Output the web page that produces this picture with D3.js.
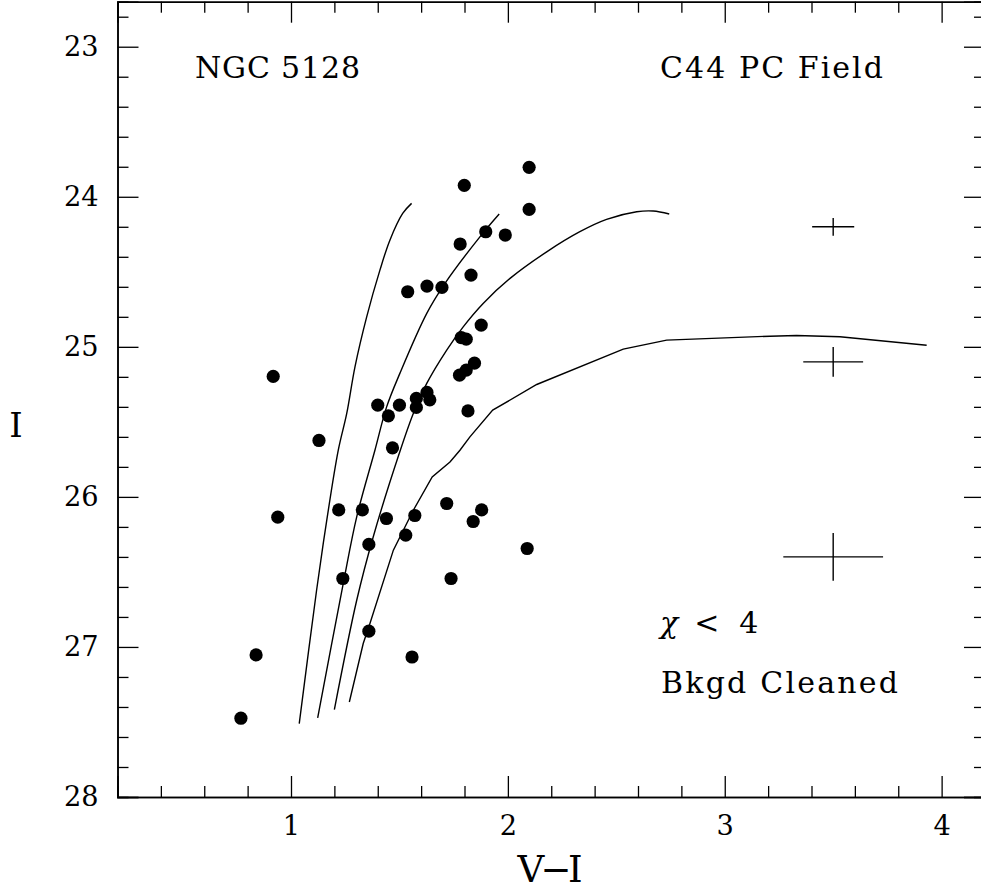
<!DOCTYPE html>
<html><head><meta charset="utf-8">
<script src="https://cdn.jsdelivr.net/npm/d3@7"></script>
<style>body{margin:0;background:#fff;} svg{display:block;}</style>
</head><body>
<script>
// Data points (V-I, I)
const starVI = [2.098,1.799,2.098,1.898,1.988,1.780,1.830,1.627,1.696,1.538,1.877,1.785,1.808,1.846,1.808,1.777,0.918,1.627,1.640,1.578,1.578,1.400,1.500,1.449,1.816,1.129,1.468,
  0.939,1.220,1.329,1.440,1.571,1.718,1.879,1.840,1.529,1.359,2.089,1.239,1.738,1.359,0.839,1.558,0.769];
const starI = [23.804,23.924,24.084,24.233,24.255,24.315,24.522,24.595,24.604,24.633,24.855,24.938,24.949,25.109,25.155,25.189,25.197,25.304,25.353,25.344,25.404,25.389,25.389,25.460,25.427,25.624,25.673,
  26.135,26.087,26.087,26.144,26.124,26.044,26.087,26.164,26.255,26.317,26.344,26.544,26.544,26.895,27.053,27.067,27.475];

// Isochrone / fiducial curves
const curve1VI = [1.038,1.118,1.165,1.218,1.257,1.295,1.349,1.410,1.456,1.515,1.556];
const curve1I  = [27.511,26.622,26.155,25.689,25.444,25.133,24.800,24.489,24.289,24.111,24.044];
const curve2VI = [1.123,1.241,1.303,1.387,1.441,1.502,1.626,1.710,1.871,1.960];
const curve2I  = [27.473,26.577,26.133,25.689,25.400,25.177,24.777,24.577,24.267,24.115];
const curve3VI = [1.200,1.303,1.379,1.499,1.564,1.626,1.718,1.794,1.886,2.010,2.179,2.332,2.455,2.594,2.670,2.744];
const curve3I  = [27.417,26.689,26.267,25.711,25.444,25.244,25.022,24.867,24.711,24.544,24.367,24.233,24.151,24.100,24.095,24.115];
const curve4VI = [1.269,1.333,1.364,1.472,1.564,1.651,1.733,1.779,1.825,1.930,2.133,2.532,2.732,3.208,3.331,3.531,3.931];
const curve4I  = [27.367,26.977,26.844,26.355,26.089,25.867,25.767,25.689,25.600,25.422,25.251,25.015,24.955,24.929,24.924,24.933,24.989];

// Error bars
const errVI = [3.5,3.5,3.5];
const errI = [24.2,25.1,26.4];
const errX = [0.097,0.138,0.23];
const errY = [0.059,0.099,0.159];

const xMajorTicks = [1,2,3,4];
const yMajorTicks = [23,24,25,26,27,28];

const W = 981, H = 890;
const svg = d3.select("body").append("svg").attr("width", W).attr("height", H);
const x = d3.scaleLinear().domain([0.2, 4.2]).range([117.5, 985]);
const y = d3.scaleLinear().domain([22.7, 28]).range([1.7, 797]);

const font = "'DejaVu Serif', 'Liberation Serif', serif";
const xMinor = d3.range(0.2, 4.2001, 0.2).map(v => +v.toFixed(1)).filter(v => !xMajorTicks.includes(v));
const yMinor = d3.range(22.8, 28.0001, 0.2).map(v => +v.toFixed(1)).filter(v => !yMajorTicks.includes(v));

function styleAxis(g){
  g.select(".domain").attr("stroke", "#000").attr("stroke-width", 1.5);
  g.selectAll(".tick line").attr("stroke", "#000").attr("stroke-width", 1.3);
  g.selectAll(".tick text").attr("font-family", font).attr("font-size", 27).attr("fill", "#000");
}
// bottom
svg.append("g").attr("transform", `translate(0,${y(28)})`)
  .call(d3.axisBottom(x).tickValues(xMajorTicks).tickSize(-21).tickPadding(19).tickFormat(d3.format("d")))
  .call(styleAxis);
svg.append("g").attr("transform", `translate(0,${y(28)})`)
  .call(d3.axisBottom(x).tickValues(xMinor).tickSize(-11).tickFormat(""))
  .call(styleAxis);
// top
svg.append("g").attr("transform", `translate(0,${y(22.7)})`)
  .call(d3.axisTop(x).tickValues(xMajorTicks).tickSize(-21).tickFormat(""))
  .call(styleAxis);
svg.append("g").attr("transform", `translate(0,${y(22.7)})`)
  .call(d3.axisTop(x).tickValues(xMinor).tickSize(-11).tickFormat(""))
  .call(styleAxis);
// left
svg.append("g").attr("transform", `translate(${x(0.2)},0)`)
  .call(d3.axisLeft(y).tickValues(yMajorTicks).tickSize(-21).tickPadding(19).tickFormat(d3.format("d")))
  .call(styleAxis);
svg.append("g").attr("transform", `translate(${x(0.2)},0)`)
  .call(d3.axisLeft(y).tickValues(yMinor).tickSize(-11).tickFormat(""))
  .call(styleAxis);
// right
svg.append("g").attr("transform", `translate(${x(4.2)},0)`)
  .call(d3.axisRight(y).tickValues(yMajorTicks).tickSize(-21).tickFormat(""))
  .call(styleAxis);
svg.append("g").attr("transform", `translate(${x(4.2)},0)`)
  .call(d3.axisRight(y).tickValues(yMinor).tickSize(-11).tickFormat(""))
  .call(styleAxis);

svg.selectAll(".tick text").attr("textLength", function(){ return this.textContent.length * 17.3; })
  .attr("lengthAdjust", "spacingAndGlyphs");

// curves
const smooth = d3.line().x(d => x(d[0])).y(d => y(d[1])).curve(d3.curveCatmullRom.alpha(0.5));
const poly = d3.line().x(d => x(d[0])).y(d => y(d[1]));
[[curve1VI,curve1I,smooth],[curve2VI,curve2I,smooth],[curve3VI,curve3I,smooth],[curve4VI,curve4I,poly]].forEach(([vx,vy,gen]) => {
  svg.append("path").datum(vx.map((v,i)=>[v,vy[i]]))
    .attr("d", gen).attr("fill","none").attr("stroke","#000").attr("stroke-width",1.4);
});

// points
svg.append("g").selectAll("circle").data(starVI.map((v,i)=>[v,starI[i]])).join("circle")
  .attr("cx", d=>x(d[0])).attr("cy", d=>y(d[1])).attr("r", 6.6).attr("fill","#000");

// error crosses
const eg = svg.append("g").attr("stroke","#000").attr("stroke-width",1.4);
errVI.forEach((v,i)=>{
  eg.append("line").attr("x1", x(v-errX[i])).attr("x2", x(v+errX[i])).attr("y1", y(errI[i])).attr("y2", y(errI[i]));
  eg.append("line").attr("x1", x(v)).attr("x2", x(v)).attr("y1", y(errI[i]-errY[i])).attr("y2", y(errI[i]+errY[i]));
});

// texts
function txt(s, xx, yy, size, len, anchor){
  const t = svg.append("text").attr("x", xx).attr("y", yy).attr("font-family", font)
    .attr("font-size", size).attr("fill","#000").attr("text-anchor", anchor || "start").text(s);
  if (len) t.attr("textLength", len).attr("lengthAdjust","spacing");
  return t;
}
txt("NGC 5128", 195, 78, 30, 165);
txt("C44 PC Field", 660, 78, 30, 223);
const chi = svg.append("text").attr("x", 660).attr("y", 633).attr("font-family", font).attr("font-size", 30).attr("fill","#000");
chi.append("tspan").attr("font-style","italic").text("χ");
chi.append("tspan").attr("dx", 16).text("<");
chi.append("tspan").attr("dx", 20).text("4");
txt("Bkgd Cleaned", 661, 693, 30, 237);
txt("V\u2212I", 550, 882, 37, 65, "middle");
txt("I", 16, 437, 34, null, "middle");
</script>
</body></html>
